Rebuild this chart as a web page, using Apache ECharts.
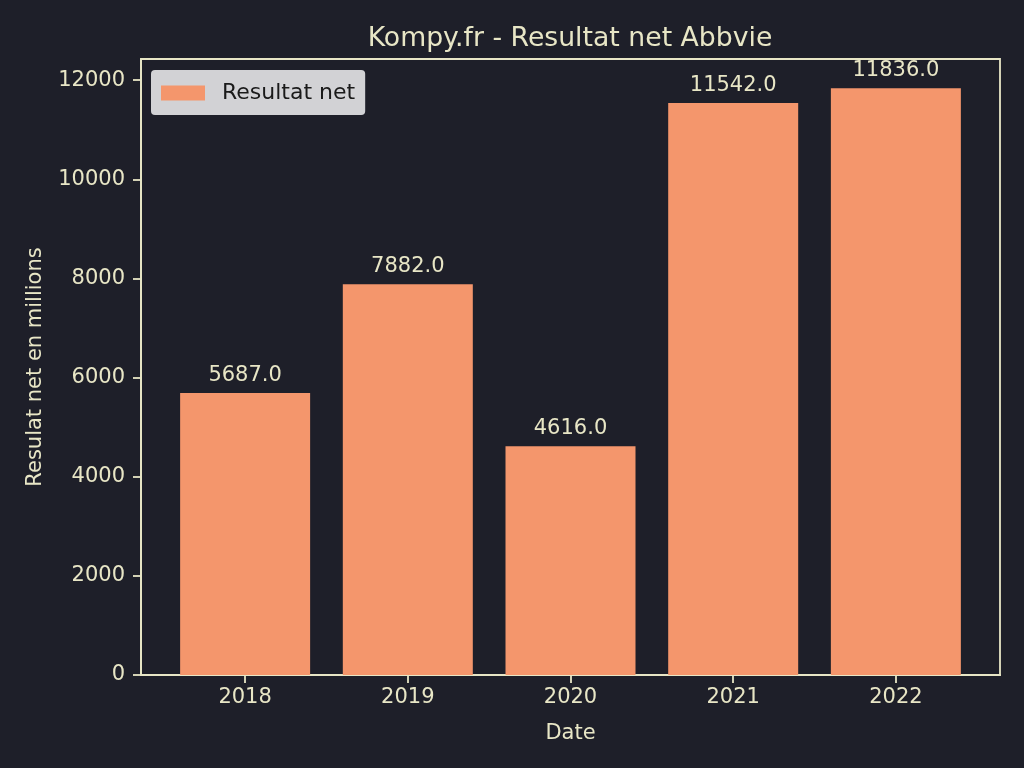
<!DOCTYPE html>
<html>
<head>
<meta charset="utf-8">
<script src="https://cdn.jsdelivr.net/npm/echarts@6/dist/echarts.min.js"></script>
<style>
html,body{margin:0;padding:0;background:#1e1f29;}
#chart{width:1024px;height:768px;}
</style>
</head>
<body>
<div id="chart"></div>
<script>
const years = ['2018', '2019', '2020', '2021', '2022'];
const resultatNet = [5687.0, 7882.0, 4616.0, 11542.0, 11836.0];
const yTicks = [0, 2000, 4000, 6000, 8000, 10000, 12000];

const fg = '#e8e6c6';
const barColor = '#f4966c';
const font = 'DejaVu Sans';

const chart = echarts.init(document.getElementById('chart'));
chart.setOption({
  backgroundColor: '#1e1f29',
  animation: false,
  textStyle: { fontFamily: font },
  title: {
    text: 'Kompy.fr - Resultat net Abbvie',
    left: 565, top: 21, textAlign: 'center',
    textStyle: { color: fg, fontSize: 26.7, fontWeight: 'normal', fontFamily: font }
  },
  legend: {
    data: ['Resultat net'],
    left: 151, top: 70,
    backgroundColor: '#d2d2d5',
    borderRadius: 4,
    padding: [12, 10, 11, 10],
    icon: 'rect',
    itemWidth: 44, itemHeight: 15, itemGap: 10,
    textStyle: { color: '#1a1a1a', fontSize: 22, fontFamily: font, padding: [0, 0, 0, 12] }
  },
  grid: {
    left: 141, right: 24, top: 59, bottom: 93,
    show: true, borderColor: fg, borderWidth: 1.8, backgroundColor: 'transparent'
  },
  xAxis: {
    type: 'value', min: -0.64, max: 4.64,
    name: 'Date', nameLocation: 'middle', nameGap: 48,
    nameTextStyle: { color: fg, fontSize: 21, fontFamily: font },
    axisLine: { show: true, onZero: false, lineStyle: { color: fg, width: 1.8 } },
    axisTick: { show: true, length: 8, lineStyle: { color: fg, width: 1.8 }, customValues: [0, 1, 2, 3, 4] },
    axisLabel: {
      color: fg, fontSize: 21, fontFamily: font, margin: 12,
      customValues: [0, 1, 2, 3, 4],
      formatter: v => years[Math.round(v)]
    },
    splitLine: { show: false }
  },
  yAxis: {
    type: 'value', min: 0, max: 12427.8,
    name: 'Resulat net en millions', nameLocation: 'middle', nameGap: 95,
    nameTextStyle: { color: fg, fontSize: 21, fontFamily: font },
    axisLine: { show: true, onZero: false, lineStyle: { color: fg, width: 1.8 } },
    axisTick: { show: true, length: 8, lineStyle: { color: fg, width: 1.8 }, customValues: yTicks },
    axisLabel: { color: fg, fontSize: 21, fontFamily: font, margin: 16, customValues: yTicks, formatter: v => String(v) },
    splitLine: { show: false }
  },
  series: [{
    name: 'Resultat net',
    type: 'bar',
    barWidth: 130,
    itemStyle: { color: barColor },
    data: resultatNet.map((v, i) => [i, v]),
    label: {
      show: true, position: 'top', distance: 7,
      color: fg, fontSize: 21, fontFamily: font,
      formatter: p => p.value[1].toFixed(1)
    }
  }]
});
</script>
</body>
</html>
